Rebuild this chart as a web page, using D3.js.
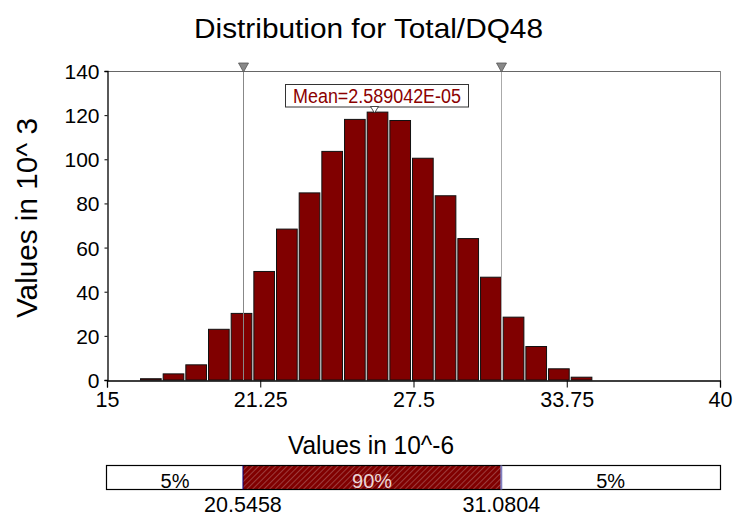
<!DOCTYPE html>
<html>
<head>
<meta charset="utf-8">
<script src="https://cdn.jsdelivr.net/npm/d3@7/dist/d3.min.js"></script>
<style>
  html, body { margin: 0; padding: 0; background: #fff; }
  svg { display: block; font-family: "Liberation Sans", Arial, sans-serif; }
</style>
</head>
<body>
<svg id="chart" width="737" height="516"></svg>
<script>
// ---- data (values in 10^-6 on x, 10^3 on y) ----
const binEdges = [16.305, 17.230, 18.154, 19.079, 20.003, 20.928, 21.852, 22.777, 23.701, 24.626,
                  25.550, 26.475, 27.399, 28.324, 29.248, 30.173, 31.097, 32.022, 32.946, 33.871, 34.795];
const binValues = [0.8, 3.0, 7.1, 23.2, 30.4, 49.4, 68.6, 85.0, 103.8, 118.3,
                   121.6, 117.8, 100.7, 83.7, 64.3, 46.8, 28.7, 15.4, 5.3, 1.5];
const xTicks = [15, 21.25, 27.5, 33.75, 40];
const xTickLabels = ["15", "21.25", "27.5", "33.75", "40"];
const yTicks = [0, 20, 40, 60, 80, 100, 120, 140];
const markers = [20.5458, 31.0804];
const markerLabels = ["20.5458", "31.0804"];
const meanValue = 25.89042;
const meanLabel = "Mean=2.589042E-05";
const bandLabels = ["5%", "90%", "5%"];
const titleText = "Distribution for Total/DQ48";
const xTitle = "Values in 10^-6";
const yTitle = "Values in 10^ 3";

// ---- layout ----
const svg = d3.select("#chart");
const L = 107, R = 720, T = 71, B = 380;
const x = d3.scaleLinear().domain([15, 40]).range([L, R]);
const y = d3.scaleLinear().domain([0, 140]).range([B, T]);

// title
svg.append("text").attr("x", 368.5).attr("y", 37.5).attr("text-anchor", "middle")
  .attr("font-size", 27.5).attr("textLength", 349).attr("lengthAdjust", "spacingAndGlyphs")
  .attr("fill", "#000").text(titleText);

// y title
svg.append("text").attr("transform", "translate(37,218) rotate(-90)").attr("text-anchor", "middle")
  .attr("font-size", 29).attr("textLength", 200).attr("lengthAdjust", "spacingAndGlyphs")
  .text(yTitle);

// plot frame (top & right in gray)
svg.append("line").attr("x1", L).attr("x2", R).attr("y1", T + 0.5).attr("y2", T + 0.5).attr("stroke", "#666");
svg.append("line").attr("x1", R + 0.5).attr("x2", R + 0.5).attr("y1", T).attr("y2", B).attr("stroke", "#888");

// bars
const bins = binValues.map((v, i) => ({ x0: binEdges[i], x1: binEdges[i + 1], v }));
svg.append("g").selectAll("rect").data(bins).join("rect")
  .attr("x", d => x(d.x0) + 1.5)
  .attr("width", d => x(d.x1) - x(d.x0) - 2)
  .attr("y", d => y(d.v) + 0.5)
  .attr("height", d => Math.max(0, y(0) - y(d.v) - 0.5))
  .attr("fill", "#800000").attr("stroke", "#111").attr("stroke-width", 1);

// percentile lines
svg.append("g").selectAll("line").data(markers).join("line")
  .attr("x1", d => Math.round(x(d)) + 0.5).attr("x2", d => Math.round(x(d)) + 0.5)
  .attr("y1", T).attr("y2", B)
  .attr("stroke", (d, i) => i === 0 ? "#888" : "#aaa").attr("stroke-width", 1);

// percentile triangles above
svg.append("g").selectAll("path").data(markers).join("path")
  .attr("d", d => { const cx = Math.round(x(d)) + 0.5; return `M${cx - 5},${T - 8}L${cx + 5},${T - 8}L${cx},${T + 1}Z`; })
  .attr("fill", "#888").attr("stroke", "#555").attr("stroke-width", 0.8);

// axes
const yAxis = d3.axisLeft(y).tickValues(yTicks).tickSize(3).tickPadding(5).tickFormat(d3.format("d"));
const gy = svg.append("g").attr("transform", `translate(${L + 0.5},0)`).call(yAxis);
gy.select(".domain").attr("stroke", "#000").attr("stroke-width", 1.3);
gy.selectAll("text").attr("font-size", 21).attr("font-family", "Liberation Sans, Arial, sans-serif").attr("fill", "#000").attr("dy", "0.36em");

const xAxis = d3.axisBottom(x).tickValues(xTicks).tickSize(7).tickPadding(4)
  .tickFormat((d, i) => xTickLabels[i]);
const gx = svg.append("g").attr("transform", `translate(0,${B + 0.5})`).call(xAxis);
gx.select(".domain").attr("stroke", "#000").attr("stroke-width", 1.3);
gx.selectAll("text").attr("font-size", 21.5).attr("font-family", "Liberation Sans, Arial, sans-serif").attr("fill", "#000");

// mean label
const mx = Math.round(x(meanValue)) + 0.5;
svg.append("rect").attr("x", 285.5).attr("y", 84.5).attr("width", 183).attr("height", 22.5)
  .attr("fill", "#fff").attr("stroke", "#333").attr("stroke-width", 1);
svg.append("text").attr("x", 377).attr("y", 103).attr("text-anchor", "middle")
  .attr("font-size", 20.5).attr("textLength", 168).attr("lengthAdjust", "spacingAndGlyphs")
  .attr("fill", "#8b0000").text(meanLabel);
svg.append("path").attr("d", `M${mx - 4},106.5L${mx + 4},106.5L${mx},113Z`)
  .attr("fill", "#fff").attr("stroke", "#222").attr("stroke-width", 0.8);

// x title
svg.append("text").attr("x", 371).attr("y", 454).attr("text-anchor", "middle")
  .attr("font-size", 26).attr("textLength", 166).attr("lengthAdjust", "spacingAndGlyphs")
  .text(xTitle);

// bottom band
const defs = svg.append("defs");
const pat = defs.append("pattern").attr("id", "hatch").attr("patternUnits", "userSpaceOnUse")
  .attr("width", 4).attr("height", 4).attr("patternTransform", "rotate(45)");
pat.append("rect").attr("width", 4).attr("height", 4).attr("fill", "#800000");
pat.append("line").attr("x1", 0).attr("y1", 0).attr("x2", 0).attr("y2", 4)
  .attr("stroke", "#b87878").attr("stroke-width", 1);

const bandTop = 465.5, bandH = 24;
const edges = [15, markers[0], markers[1], 40];
const segs = [0, 1, 2].map(i => ({ a: edges[i], b: edges[i + 1], label: bandLabels[i] }));
svg.append("g").selectAll("rect").data(segs).join("rect")
  .attr("x", d => x(d.a)).attr("width", d => x(d.b) - x(d.a))
  .attr("y", bandTop).attr("height", bandH)
  .attr("fill", (d, i) => i === 1 ? "url(#hatch)" : "#fff");
svg.append("rect").attr("x", L - 0.5).attr("y", bandTop).attr("width", R - L + 1).attr("height", bandH)
  .attr("fill", "none").attr("stroke", "#000").attr("stroke-width", 1.2);
svg.append("line").attr("x1", x(markers[0])).attr("x2", x(markers[0])).attr("y1", bandTop).attr("y2", bandTop + bandH)
  .attr("stroke", "#000080").attr("stroke-width", 1);
svg.append("line").attr("x1", x(markers[1])).attr("x2", x(markers[1])).attr("y1", bandTop).attr("y2", bandTop + bandH)
  .attr("stroke", "#8080c0").attr("stroke-width", 2);
svg.append("g").selectAll("text").data(segs).join("text")
  .attr("x", d => (x(d.a) + x(d.b)) / 2).attr("y", 487.5).attr("text-anchor", "middle")
  .attr("font-size", 20).attr("fill", (d, i) => i === 1 ? "#ecd6d6" : "#000").text(d => d.label);

svg.append("g").selectAll("text").data(markers).join("text")
  .attr("x", d => x(d)).attr("y", 512).attr("text-anchor", "middle")
  .attr("font-size", 21.5).attr("fill", "#000").text((d, i) => markerLabels[i]);
</script>
</body>
</html>
